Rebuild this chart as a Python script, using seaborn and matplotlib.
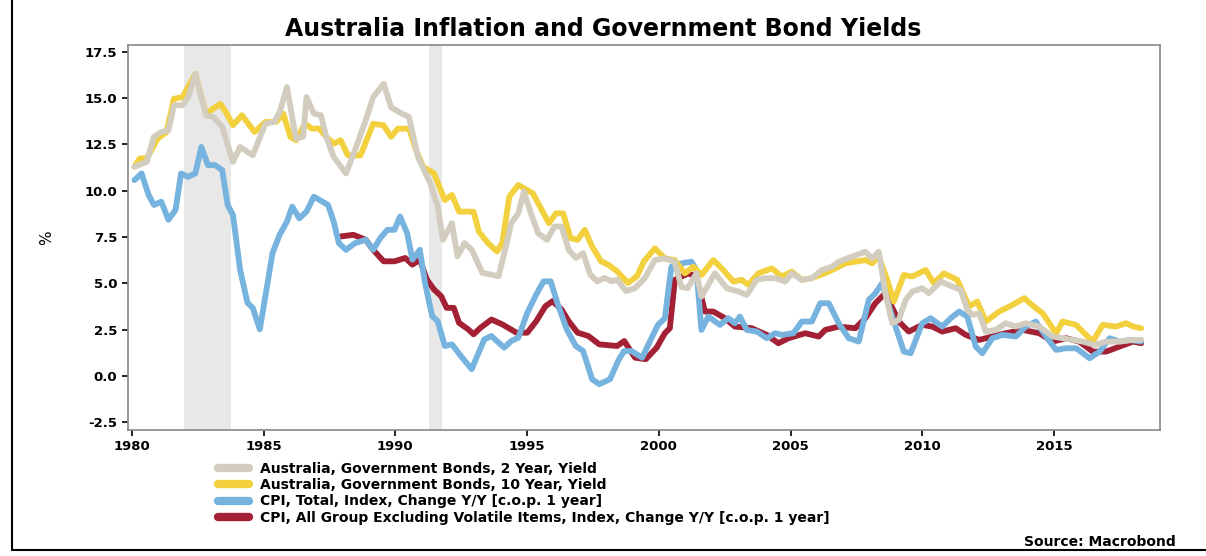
import numpy as np
import pandas as pd
import matplotlib
matplotlib.use("Agg")
import matplotlib.pyplot as plt
import seaborn as sns

# 2 year yield
t_2y = [1980.1, 1980.57, 1980.84, 1981.12, 1981.39, 1981.6, 1981.93, 1982.14, 1982.41, 1982.82, 1983.09, 1983.43,
        1983.84, 1984.11, 1984.59, 1985.07, 1985.41, 1985.61, 1985.89, 1986.23, 1986.5, 1986.63, 1986.91, 1987.18,
        1987.38, 1987.66, 1988.13, 1988.47, 1988.88, 1989.16, 1989.56, 1989.84, 1990.25, 1990.52, 1990.86, 1991.33,
        1991.61, 1991.81, 1992.15, 1992.36, 1992.63, 1992.9, 1993.31, 1993.65, 1993.92, 1994.2, 1994.4, 1994.67,
        1994.88, 1995.15, 1995.42, 1995.76, 1996.04, 1996.31, 1996.58, 1996.85, 1997.13, 1997.4, 1997.67, 1997.94,
        1998.22, 1998.42, 1998.76, 1999.1, 1999.47, 1999.85, 2000.23, 2000.6, 2000.86, 2001.1, 2001.43, 2001.62,
        2002.13, 2002.58, 2003.02, 2003.34, 2003.72, 2004.04, 2004.42, 2004.8, 2005.05, 2005.43, 2005.81, 2006.19,
        2006.57, 2006.83, 2007.33, 2007.84, 2008.1, 2008.35, 2008.6, 2008.86, 2009.11, 2009.37, 2009.62, 2010.0,
        2010.25, 2010.7, 2011.14, 2011.46, 2011.71, 2011.9, 2012.16, 2012.41, 2012.79, 2013.17, 2013.55, 2013.93,
        2014.44, 2014.95, 2015.33, 2015.71, 2016.09, 2016.54, 2016.98, 2017.49, 2018.0, 2018.31]
v_2y = [11.28, 11.55, 12.9, 13.16, 13.25, 14.6, 14.6, 15.04, 16.3, 14.06, 13.97, 13.43,
        11.55, 12.35, 11.9, 13.6, 13.7, 14.23, 15.58, 12.8, 12.9, 15.04, 14.15, 14.06,
        12.9, 11.82, 10.92, 12.18, 13.79, 15.04, 15.76, 14.5, 14.15, 13.97, 11.82, 10.38,
        9.13, 7.34, 8.24, 6.45, 7.16, 6.8, 5.55, 5.46, 5.37, 6.98, 8.24, 8.77,
        9.94, 8.77, 7.7, 7.34, 8.06, 8.06, 6.8, 6.36, 6.62, 5.46, 5.1, 5.28,
        5.1, 5.19, 4.57, 4.74, 5.27, 6.25, 6.34, 6.16, 4.8, 4.73, 5.53, 4.28,
        5.53, 4.73, 4.55, 4.37, 5.18, 5.27, 5.27, 5.09, 5.53, 5.18, 5.27, 5.71,
        5.89, 6.16, 6.43, 6.7, 6.34, 6.7, 4.46, 2.84, 3.02, 4.1, 4.55, 4.73,
        4.46, 5.09, 4.82, 4.64, 3.56, 3.29, 3.38, 2.39, 2.48, 2.84, 2.66, 2.84,
        2.66, 2.12, 2.03, 1.94, 1.85, 1.67, 1.85, 1.85, 1.94, 1.94]

# 10 year yield
t_10y = [1980.1, 1980.3, 1980.57, 1980.98, 1981.32, 1981.6, 1981.93, 1982.41, 1982.82, 1983.36, 1983.57, 1983.84,
         1984.18, 1984.66, 1985.07, 1985.48, 1985.75, 1986.02, 1986.23, 1986.57, 1986.84, 1987.11, 1987.38, 1987.66,
         1987.93, 1988.2, 1988.68, 1989.16, 1989.56, 1989.84, 1990.1, 1990.52, 1990.79, 1991.06, 1991.47, 1991.88,
         1992.15, 1992.42, 1992.97, 1993.17, 1993.52, 1993.86, 1994.06, 1994.33, 1994.67, 1995.22, 1995.56, 1995.83,
         1996.1, 1996.37, 1996.65, 1996.92, 1997.19, 1997.47, 1997.81, 1998.08, 1998.42, 1998.83, 1999.17, 1999.44,
         1999.85, 2000.23, 2000.6, 2000.99, 2001.31, 2001.62, 2002.07, 2002.45, 2002.83, 2003.15, 2003.4, 2003.78,
         2004.29, 2004.67, 2005.05, 2005.43, 2005.81, 2006.45, 2007.08, 2007.84, 2008.1, 2008.35, 2008.67, 2008.92,
         2009.3, 2009.62, 2010.13, 2010.44, 2010.82, 2011.33, 2011.78, 2012.09, 2012.41, 2012.92, 2013.43, 2013.87,
         2014.31, 2014.57, 2015.08, 2015.33, 2015.84, 2016.47, 2016.85, 2017.36, 2017.74, 2018.0, 2018.31]
v_10y = [11.28, 11.73, 11.73, 12.8, 13.16, 14.95, 15.04, 16.3, 14.15, 14.68, 14.23, 13.52,
         14.06, 13.16, 13.7, 13.7, 14.15, 12.9, 12.71, 13.6, 13.34, 13.34, 12.9, 12.53,
         12.71, 11.9, 11.9, 13.6, 13.52, 12.9, 13.34, 13.34, 12.18, 11.28, 10.92, 9.49,
         9.76, 8.86, 8.86, 7.79, 7.16, 6.71, 7.16, 9.67, 10.3, 9.85, 8.95, 8.24,
         8.77, 8.77, 7.43, 7.34, 7.88, 6.98, 6.18, 6.0, 5.64, 5.01, 5.37, 6.18,
         6.88, 6.34, 6.25, 5.53, 5.89, 5.44, 6.25, 5.71, 5.09, 5.18, 4.91, 5.53,
         5.8, 5.36, 5.62, 5.18, 5.27, 5.62, 6.07, 6.25, 6.07, 6.43, 5.18, 4.01,
         5.44, 5.36, 5.71, 5.0, 5.53, 5.18, 3.74, 4.01, 2.93, 3.47, 3.83, 4.19,
         3.65, 3.38, 2.3, 2.93, 2.75, 1.85, 2.75, 2.66, 2.84, 2.66, 2.57]

# CPI total
t_cpi = [1980.1, 1980.37, 1980.64, 1980.84, 1981.12, 1981.39, 1981.66, 1981.87, 1982.14, 1982.41, 1982.64, 1982.89,
         1983.16, 1983.43, 1983.64, 1983.84, 1984.11, 1984.39, 1984.59, 1984.86, 1985.07, 1985.34, 1985.61, 1985.89,
         1986.09, 1986.36, 1986.63, 1986.91, 1987.45, 1987.66, 1987.86, 1988.13, 1988.47, 1988.88, 1989.16, 1989.43,
         1989.7, 1989.97, 1990.18, 1990.45, 1990.65, 1990.93, 1991.13, 1991.4, 1991.61, 1991.88, 1992.15, 1992.49,
         1992.9, 1993.38, 1993.65, 1994.13, 1994.4, 1994.67, 1995.01, 1995.35, 1995.63, 1995.9, 1996.17, 1996.51,
         1996.85, 1997.13, 1997.47, 1997.74, 1998.15, 1998.49, 1998.69, 1998.96, 1999.37, 1999.64, 1999.97, 2000.23,
         2000.48, 2000.86, 2001.24, 2001.43, 2001.62, 2001.88, 2002.32, 2002.64, 2002.89, 2003.08, 2003.34, 2003.72,
         2004.1, 2004.42, 2004.67, 2005.11, 2005.43, 2005.81, 2006.13, 2006.45, 2006.83, 2007.21, 2007.59, 2007.97,
         2008.22, 2008.48, 2008.86, 2009.3, 2009.56, 2010.0, 2010.32, 2010.76, 2011.08, 2011.4, 2011.71, 2012.03,
         2012.28, 2012.66, 2013.05, 2013.55, 2013.93, 2014.31, 2014.7, 2015.08, 2015.46, 2015.84, 2016.35, 2016.73,
         2017.11, 2017.49, 2017.87, 2018.31]
v_cpi = [10.56, 10.92, 9.76, 9.22, 9.4, 8.42, 8.95, 10.92, 10.74, 10.92, 12.35, 11.37,
         11.37, 11.1, 9.22, 8.68, 5.73, 3.94, 3.67, 2.51, 4.3, 6.62, 7.61, 8.33,
         9.13, 8.5, 8.86, 9.67, 9.22, 8.33, 7.16, 6.8, 7.16, 7.34, 6.8, 7.43,
         7.88, 7.88, 8.6, 7.7, 6.27, 6.8, 5.01, 3.22, 2.95, 1.61, 1.7, 1.07,
         0.36, 1.97, 2.15, 1.52, 1.88, 2.06, 3.4, 4.39, 5.1, 5.1, 3.85, 2.51,
         1.61, 1.34, -0.18, -0.45, -0.18, 0.9, 1.34, 1.34, 0.98, 1.79, 2.75, 3.11,
         5.89, 6.07, 6.16, 5.71, 2.48, 3.2, 2.75, 3.11, 2.84, 3.2, 2.48, 2.39,
         2.03, 2.3, 2.21, 2.3, 2.93, 2.93, 3.92, 3.92, 2.84, 2.03, 1.85, 4.1,
         4.46, 5.0, 3.2, 1.31, 1.22, 2.84, 3.11, 2.66, 3.11, 3.47, 3.2, 1.58,
         1.22, 2.03, 2.21, 2.12, 2.66, 2.93, 2.12, 1.4, 1.49, 1.49, 0.95, 1.31,
         2.03, 1.85, 1.94, 1.85]

# CPI excluding volatile items
t_core = [1987.93, 1988.41, 1988.88, 1989.16, 1989.56, 1989.97, 1990.38, 1990.65, 1990.93, 1991.2, 1991.47, 1991.74,
          1991.95, 1992.22, 1992.42, 1992.77, 1992.97, 1993.24, 1993.65, 1994.06, 1994.6, 1995.01, 1995.35, 1995.7,
          1995.97, 1996.31, 1996.58, 1996.92, 1997.33, 1997.74, 1998.42, 1998.69, 1999.1, 1999.51, 1999.92, 2000.23,
          2000.42, 2000.61, 2001.12, 2001.43, 2001.75, 2002.07, 2002.51, 2002.89, 2003.53, 2004.1, 2004.54, 2004.92,
          2005.56, 2006.07, 2006.32, 2006.83, 2007.46, 2007.84, 2008.22, 2008.6, 2009.11, 2009.49, 2010.0, 2010.38,
          2010.76, 2011.27, 2011.65, 2012.16, 2012.66, 2013.17, 2013.81, 2014.44, 2014.95, 2015.46, 2015.96, 2016.47,
          2016.98, 2017.49, 2018.0, 2018.31]
v_core = [7.52, 7.61, 7.34, 6.8, 6.18, 6.18, 6.36, 6.0, 6.27, 5.19, 4.66, 4.3,
          3.67, 3.67, 2.86, 2.51, 2.24, 2.6, 3.04, 2.78, 2.33, 2.33, 2.95, 3.76,
          4.03, 3.58, 2.95, 2.33, 2.15, 1.7, 1.61, 1.88, 0.98, 0.9, 1.52, 2.3,
          2.57, 5.18, 5.53, 5.36, 3.47, 3.47, 3.11, 2.66, 2.57, 2.21, 1.76, 2.03,
          2.3, 2.12, 2.48, 2.66, 2.57, 3.11, 3.92, 4.46, 2.93, 2.39, 2.75, 2.66,
          2.39, 2.57, 2.21, 1.94, 2.12, 2.3, 2.48, 2.3, 1.85, 2.03, 1.85, 1.31,
          1.31, 1.58, 1.85, 1.76]

recessions = [(1982.0, 1983.77), (1991.27, 1991.78)]
yticks = [-2.5, 0.0, 2.5, 5.0, 7.5, 10.0, 12.5, 15.0, 17.5]
xticks = [1980, 1985, 1990, 1995, 2000, 2005, 2010, 2015]

series = [
    ("Australia, Government Bonds, 2 Year, Yield", t_2y, v_2y, "#d3cdbf"),
    ("Australia, Government Bonds, 10 Year, Yield", t_10y, v_10y, "#f3d03e"),
    ("CPI, Total, Index, Change Y/Y [c.o.p. 1 year]", t_cpi, v_cpi, "#76b3de"),
    ("CPI, All Group Excluding Volatile Items, Index, Change Y/Y [c.o.p. 1 year]", t_core, v_core, "#a32035"),
]

sns.set_style("white")
plt.rcParams['font.family'] = ['DejaVu Sans']
plt.rcParams['text.color'] = 'black'
plt.rcParams['xtick.color'] = 'black'
plt.rcParams['ytick.color'] = 'black'
plt.rcParams['axes.labelcolor'] = 'black'

fig = plt.figure(figsize=(12.06, 5.56), dpi=100)
ax = fig.add_axes([0.106, 0.227, 0.856, 0.692])

for a, b in recessions:
    ax.axvspan(a, b, color="#e8e8e8", lw=0, zorder=0)

# draw order: core under cpi, yields on top
for idx in [3, 2, 1, 0]:
    name, t, v, c = series[idx]
    df = pd.DataFrame({"year": t, "value": v})
    sns.lineplot(data=df, x="year", y="value", ax=ax, color=c, lw=4.2, label=name, zorder=2 + (3 - idx))

ax.set_xlim(1979.85, 2019.03)
ax.set_ylim(-2.91, 17.85)
ax.set_xticks(xticks)
ax.set_xticklabels([str(x) for x in xticks], fontweight="bold", fontsize=9.5)
ax.set_yticks(yticks)
ax.set_yticklabels([f"{y:.1f}" for y in yticks], fontweight="bold", fontsize=9.5)
ax.tick_params(axis="both", length=4, width=1.2, direction="out", color="black", bottom=True, left=True)
ax.set_xlabel("")
ax.set_ylabel("%", fontsize=11, labelpad=22)
for s in ax.spines.values():
    s.set_color("#888888")
    s.set_linewidth(1.2)

handles, labels = ax.get_legend_handles_labels()
order = [labels.index(s[0]) for s in series]
leg = ax.legend([handles[i] for i in order], [labels[i] for i in order],
                loc="upper left", bbox_to_anchor=(0.082, -0.07), frameon=False,
                handlelength=2.2, labelspacing=0.15, borderaxespad=0,
                prop={"weight": "bold", "size": 10})
for ln in leg.get_lines():
    ln.set_linewidth(6)

fig.text(0.5, 0.947, "Australia Inflation and Government Bond Yields", ha="center", va="center",
         fontsize=17, fontweight="heavy")
fig.text(0.975, 0.025, "Source: Macrobond", ha="right", va="center", fontsize=10, fontweight="bold")

# frame lines at left and bottom of the figure
fig.add_artist(plt.Line2D([0.01, 0.01], [0.01, 1.0], color="black", lw=1.5))
fig.add_artist(plt.Line2D([0.01, 1.0], [0.01, 0.01], color="black", lw=1.5))

fig.savefig("out.png", dpi=100)
